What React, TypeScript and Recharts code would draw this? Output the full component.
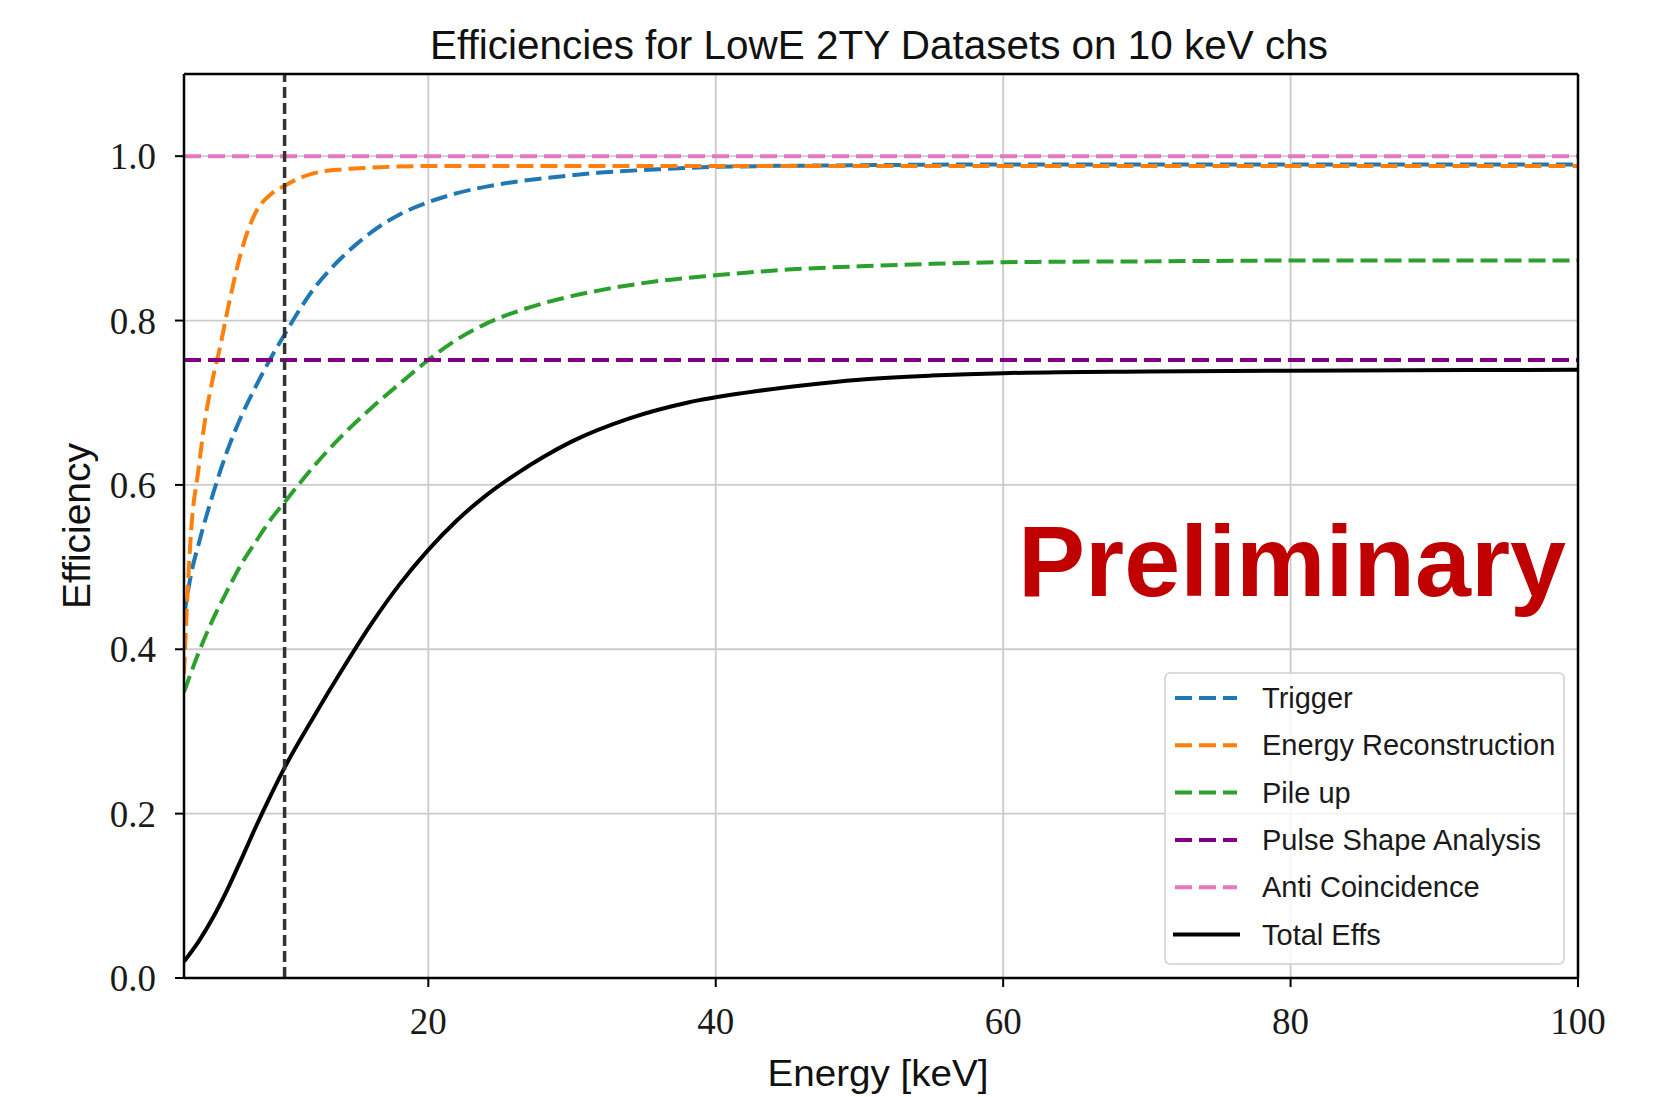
import React from "react"
import { LineChart, Line, XAxis, YAxis, CartesianGrid, ReferenceLine, Legend } from "recharts"

// energies [keV] and efficiencies
const triggerE = [3, 3.5, 4, 5, 6, 7, 8, 9, 10, 11, 12, 13, 14, 15, 16, 18, 20, 22, 25, 28, 32, 36, 40, 50, 60, 80, 100]
const triggerV = [0.44, 0.492, 0.527, 0.588, 0.641, 0.684, 0.72, 0.753, 0.783, 0.812, 0.838, 0.859, 0.877, 0.893, 0.907, 0.929, 0.944, 0.955, 0.966, 0.973, 0.98, 0.984, 0.987, 0.989, 0.99, 0.99, 0.99]

const recoE = [3, 3.25, 3.5, 4, 4.5, 5, 5.5, 6, 6.5, 7, 7.5, 8, 9, 10, 11, 12, 14, 16, 20, 30, 40, 60, 100]
const recoV = [0.37, 0.47, 0.545, 0.618, 0.683, 0.729, 0.767, 0.81, 0.85, 0.885, 0.912, 0.932, 0.953, 0.964, 0.973, 0.979, 0.984, 0.986, 0.988, 0.988, 0.988, 0.988, 0.988]

const pileE = [3, 4, 5, 6, 7, 8, 9, 10, 12, 14, 16, 18, 20, 22, 24, 26, 28, 32, 36, 40, 45, 50, 55, 60, 70, 80, 100]
const pileV = [0.348, 0.395, 0.436, 0.471, 0.504, 0.531, 0.557, 0.579, 0.622, 0.66, 0.693, 0.723, 0.752, 0.777, 0.796, 0.81, 0.821, 0.837, 0.848, 0.855, 0.862, 0.866, 0.869, 0.871, 0.872, 0.873, 0.873]

const psaE = [3, 100]
const psaV = [0.752, 0.752]

const antiE = [3, 100]
const antiV = [1.0, 1.0]

const totalE = [3, 4, 5, 6, 7, 8, 9, 10, 12, 14, 16, 18, 20, 22, 24, 26, 28, 30, 34, 38, 42, 46, 50, 55, 60, 70, 80, 100]
const totalV = [0.02, 0.044, 0.073, 0.107, 0.145, 0.184, 0.221, 0.256, 0.317, 0.375, 0.43, 0.479, 0.521, 0.557, 0.587, 0.612, 0.634, 0.653, 0.681, 0.7, 0.712, 0.721, 0.728, 0.733, 0.736, 0.738, 0.739, 0.74]

const thresholdKeV = 10

const xTicks = [20, 40, 60, 80, 100]
const yTicks = [0, 0.2, 0.4, 0.6, 0.8, 1.0]
const xMin = 3
const xMax = 100
const yMax = 1.1

const toRows = (e: number[], v: number[]) => e.map((x, i) => ({ e: x, v: v[i] }))

const series = [
  { name: "Trigger", data: toRows(triggerE, triggerV), color: "#1f77b4", dash: "17 7" },
  { name: "Energy Reconstruction", data: toRows(recoE, recoV), color: "#ff7f0e", dash: "17 7" },
  { name: "Pile up", data: toRows(pileE, pileV), color: "#2ca02c", dash: "17 7" },
  { name: "Pulse Shape Analysis", data: toRows(psaE, psaV), color: "#800080", dash: "17 7" },
  { name: "Anti Coincidence", data: toRows(antiE, antiV), color: "#e377c2", dash: "17 7" },
  { name: "Total Effs", data: toRows(totalE, totalV), color: "#000000", dash: undefined as string | undefined },
]

const sans = "'Liberation Sans', Arial, sans-serif"
const serif = "'Liberation Serif', 'Times New Roman', serif"

function LegendBox() {
  return (
    <svg width={401} height={293} style={{ display: "block" }}>
      <rect x={1} y={1} width={399} height={291} rx={5} fill="rgba(255,255,255,0.8)" stroke="#d0d0d0" strokeWidth={1.5} />
      {series.map((s, i) => {
        const cy = 26 + i * 47.3
        return (
          <g key={s.name}>
            <line x1={s.dash ? 11 : 9} x2={s.dash ? 73 : 76} y1={cy} y2={cy} stroke={s.color} strokeWidth={4} strokeDasharray={s.dash} />
            <text x={98} y={cy + 10} fontFamily={sans} fontSize={29} fill="#1a1a1a">{s.name}</text>
          </g>
        )
      })}
    </svg>
  )
}

export default function App() {
  return (
    <div style={{ position: "absolute", left: 0, top: 0, width: 1654, height: 1097, background: "#fff" }}>
      <LineChart width={1654} height={1097} margin={{ top: 74, right: 76, bottom: 0, left: 0 }}>
        <CartesianGrid stroke="#cbcbcb" strokeWidth={1.8} />
        <XAxis
          type="number"
          dataKey="e"
          domain={[xMin, xMax]}
          ticks={xTicks}
          allowDataOverflow
          height={119}
          tickSize={9}
          tickMargin={21}
          axisLine={{ stroke: "#000", strokeWidth: 2.5 }}
          tickLine={{ stroke: "#000", strokeWidth: 2 }}
          tick={{ fill: "#1a1a1a", fontSize: 37, fontFamily: serif }}
        />
        <YAxis
          type="number"
          domain={[0, yMax]}
          ticks={yTicks}
          allowDataOverflow
          width={184}
          tickSize={9}
          tickMargin={19}
          tickFormatter={(v: number) => v.toFixed(1)}
          axisLine={{ stroke: "#000", strokeWidth: 2.5 }}
          tickLine={{ stroke: "#000", strokeWidth: 2 }}
          tick={{ fill: "#1a1a1a", fontSize: 37, fontFamily: serif }}
        />
        {series.map((s) => (
          <Line
            key={s.name}
            data={s.data}
            dataKey="v"
            name={s.name}
            type="monotone"
            stroke={s.color}
            strokeWidth={4}
            strokeDasharray={s.dash}
            dot={false}
            activeDot={false}
            isAnimationActive={false}
          />
        ))}
        <ReferenceLine x={thresholdKeV} stroke="#333333" strokeWidth={3.5} strokeDasharray="11 5" />
        {/* top and right spines */}
        <ReferenceLine y={yMax} stroke="#000" strokeWidth={2.5} />
        <ReferenceLine x={xMax} stroke="#000" strokeWidth={2.5} />
        <Legend
          layout="vertical"
          align="center"
          verticalAlign="middle"
          content={() => <LegendBox />}
          wrapperStyle={{ position: "absolute", left: 1164, top: 672, width: 401, height: 293 }}
        />
      </LineChart>
      <svg width={1654} height={1097} style={{ position: "absolute", left: 0, top: 0, pointerEvents: "none" }}>
        <text x={879} y={59} textAnchor="middle" fontFamily={sans} fontSize={41} fill="#111" textLength={898} lengthAdjust="spacingAndGlyphs">
          Efficiencies for LowE 2TY Datasets on 10 keV chs
        </text>
        <text x={878} y={1086} textAnchor="middle" fontFamily={sans} fontSize={36} fill="#111" textLength={221} lengthAdjust="spacingAndGlyphs">
          Energy [keV]
        </text>
        <text x={0} y={0} transform="translate(90 526) rotate(-90)" textAnchor="middle" fontFamily={sans} fontSize={38} fill="#111" textLength={166} lengthAdjust="spacingAndGlyphs">
          Efficiency
        </text>
        <text x={1018} y={596} fontFamily={sans} fontWeight="bold" fontSize={100} fill="#c00000" textLength={548} lengthAdjust="spacingAndGlyphs">
          Preliminary
        </text>
      </svg>
    </div>
  )
}
